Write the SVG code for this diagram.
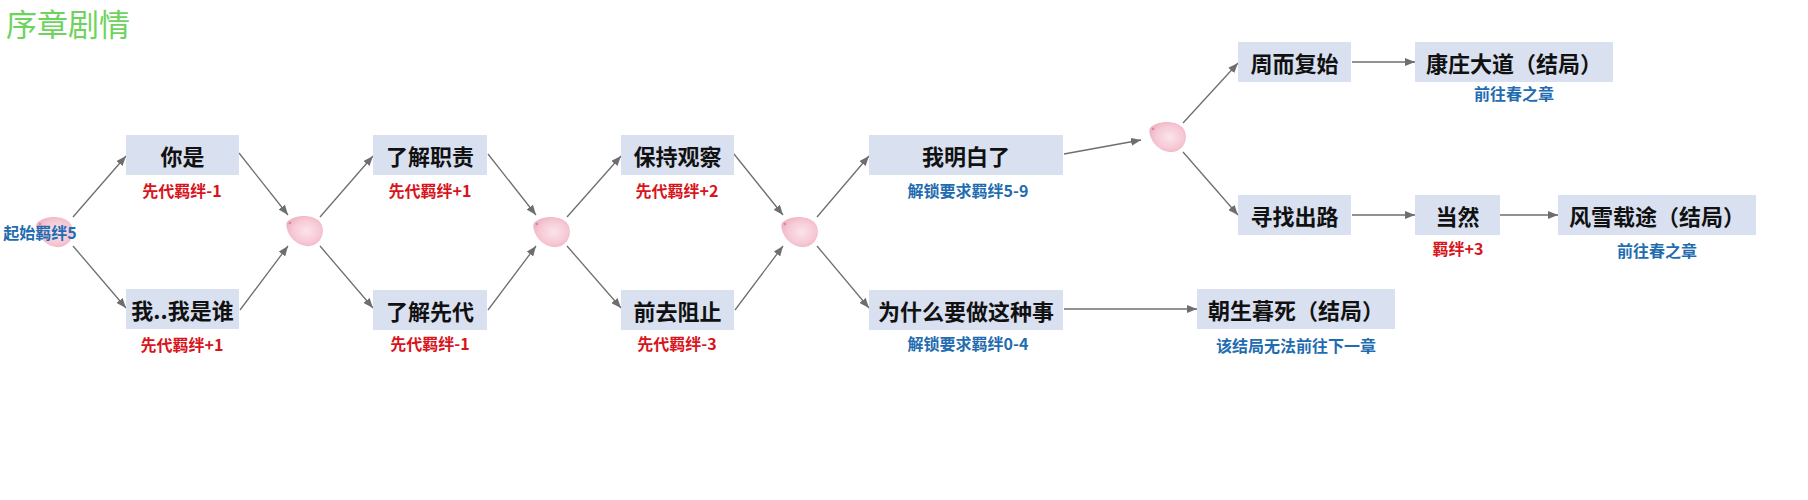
<svg xmlns="http://www.w3.org/2000/svg" width="1808" height="500" viewBox="0 0 1808 500">
<style>
.box{fill:#d9e0f0}
.bt{font-family:"Noto Sans CJK SC","Liberation Sans",sans-serif;font-size:22px;font-weight:700;fill:#111;text-anchor:middle;dominant-baseline:central}
.red{font-family:"Noto Sans CJK SC","Liberation Sans",sans-serif;font-size:16px;font-weight:700;fill:#d8141c;text-anchor:middle;dominant-baseline:central}
.blue{font-family:"Noto Sans CJK SC","Liberation Sans",sans-serif;font-size:16px;font-weight:700;fill:#1f6cb0;text-anchor:middle;dominant-baseline:central}
.title{font-family:"Noto Sans CJK SC","Liberation Sans",sans-serif;font-size:31px;font-weight:400;fill:#6dd35c}
.ln{stroke:#6e6e6e;stroke-width:1.3;fill:none;marker-end:url(#ah)}
</style>
<defs>
<marker id="ah" markerUnits="userSpaceOnUse" markerWidth="10" markerHeight="8" refX="10" refY="4" orient="auto">
<path d="M0,0 L10,4 L0,8 Z" fill="#6e6e6e"/>
</marker>
<radialGradient id="pg" cx="0.55" cy="0.5" r="0.6">
<stop offset="0" stop-color="#fbe4eb"/>
<stop offset="0.6" stop-color="#f6cad6"/>
<stop offset="1" stop-color="#eeb0c1"/>
</radialGradient>
<g id="petal">
<path d="M-18,-9 C-10,-17 8,-17 15,-9 C20,-3 19,9 9,14 C-1,18 -13,11 -17,1 C-19,-4 -19,-7 -18,-9 Z" fill="url(#pg)"/>
<circle cx="-15" cy="-8" r="1.3" fill="#d98aa2"/>
</g>
</defs>
<rect width="1808" height="500" fill="#ffffff"/>
<text class="title" x="6" y="36">序章剧情</text>

<g id="connectors">
<line class="ln" x1="73" y1="217" x2="126" y2="156"/>
<line class="ln" x1="73" y1="246" x2="126" y2="308"/>
<line class="ln" x1="239" y1="153" x2="288" y2="215"/>
<line class="ln" x1="240" y1="310" x2="288" y2="246"/>
<line class="ln" x1="320" y1="217" x2="373" y2="156"/>
<line class="ln" x1="320" y1="246" x2="373" y2="308"/>
<line class="ln" x1="488" y1="154" x2="536" y2="215"/>
<line class="ln" x1="488" y1="310" x2="536" y2="246"/>
<line class="ln" x1="567" y1="217" x2="621" y2="156"/>
<line class="ln" x1="567" y1="246" x2="621" y2="308"/>
<line class="ln" x1="734" y1="154" x2="783" y2="215"/>
<line class="ln" x1="735" y1="310" x2="783" y2="246"/>
<line class="ln" x1="817" y1="217" x2="869" y2="156"/>
<line class="ln" x1="817" y1="246" x2="869" y2="308"/>
<line class="ln" x1="1064" y1="154" x2="1141" y2="140"/>
<line class="ln" x1="1183" y1="123" x2="1238" y2="63"/>
<line class="ln" x1="1183" y1="152" x2="1238" y2="215"/>
<line class="ln" x1="1352" y1="62" x2="1415" y2="62"/>
<line class="ln" x1="1352" y1="215" x2="1415" y2="215"/>
<line class="ln" x1="1500" y1="215" x2="1558" y2="215"/>
<line class="ln" x1="1064" y1="309" x2="1197" y2="309"/>
</g>

<g id="start"><use href="#petal" x="55" y="232"/><text class="blue" x="40" y="232">起始羁绊5</text></g>
<g id="choice1"><use href="#petal" x="305" y="231"/></g>
<g id="choice2"><use href="#petal" x="552" y="232"/></g>
<g id="choice3"><use href="#petal" x="800" y="232"/></g>
<g id="choice4"><use href="#petal" x="1168" y="137"/></g>

<g id="n-nishi"><rect class="box" x="126" y="135" width="113" height="40"/><text class="bt" x="182.5" y="155">你是</text><text class="red" x="182" y="190">先代羁绊-1</text></g>
<g id="n-woshishui"><rect class="box" x="126" y="289" width="113" height="40"/><text class="bt" x="182.5" y="309">我..我是谁</text><text class="red" x="182" y="344">先代羁绊+1</text></g>
<g id="n-zhize"><rect class="box" x="373" y="135" width="114" height="40"/><text class="bt" x="430" y="155">了解职责</text><text class="red" x="430" y="190">先代羁绊+1</text></g>
<g id="n-xiandai"><rect class="box" x="373" y="290" width="114" height="40"/><text class="bt" x="430" y="310">了解先代</text><text class="red" x="430" y="343">先代羁绊-1</text></g>
<g id="n-guancha"><rect class="box" x="621" y="135" width="113" height="40"/><text class="bt" x="677.5" y="155">保持观察</text><text class="red" x="677" y="190">先代羁绊+2</text></g>
<g id="n-zuzhi"><rect class="box" x="621" y="290" width="113" height="40"/><text class="bt" x="677.5" y="310">前去阻止</text><text class="red" x="677" y="343">先代羁绊-3</text></g>
<g id="n-mingbai"><rect class="box" x="869" y="135" width="194" height="40"/><text class="bt" x="966" y="155">我明白了</text><text class="blue" x="968" y="190">解锁要求羁绊5-9</text></g>
<g id="n-weishenme"><rect class="box" x="869" y="290" width="194" height="40"/><text class="bt" x="966" y="310">为什么要做这种事</text><text class="blue" x="968" y="343">解锁要求羁绊0-4</text></g>
<g id="n-zhouer"><rect class="box" x="1238" y="42" width="113" height="40"/><text class="bt" x="1294.5" y="62">周而复始</text></g>
<g id="n-kangzhuang"><rect class="box" x="1415" y="42" width="198" height="40"/><text class="bt" x="1514" y="62">康庄大道（结局）</text><text class="blue" x="1514" y="93">前往春之章</text></g>
<g id="n-xunzhao"><rect class="box" x="1238" y="195" width="113" height="40"/><text class="bt" x="1294.5" y="215">寻找出路</text></g>
<g id="n-dangran"><rect class="box" x="1415" y="195" width="85" height="40"/><text class="bt" x="1457.5" y="215">当然</text><text class="red" x="1458" y="248">羁绊+3</text></g>
<g id="n-fengxue"><rect class="box" x="1558" y="195" width="198" height="40"/><text class="bt" x="1657" y="215">风雪载途（结局）</text><text class="blue" x="1657" y="250">前往春之章</text></g>
<g id="n-zhaosheng"><rect class="box" x="1197" y="289" width="198" height="40"/><text class="bt" x="1296" y="309">朝生暮死（结局）</text><text class="blue" x="1296" y="345">该结局无法前往下一章</text></g>
</svg>
